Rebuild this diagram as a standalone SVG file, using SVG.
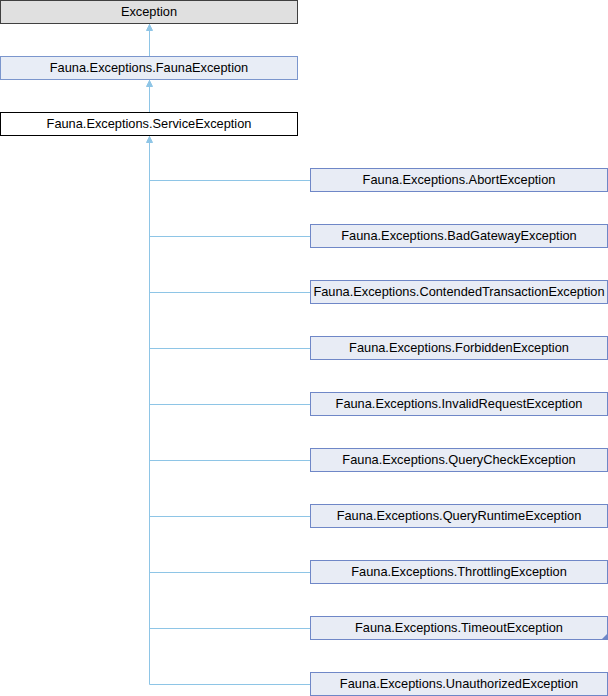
<svg xmlns="http://www.w3.org/2000/svg" width="608" height="696" viewBox="0 0 608 696">
<defs>
<style>
.t{font-family:"Liberation Sans",Arial,sans-serif;font-size:12.8px;fill:#000;text-anchor:middle}
.n{fill:#e8ecf5;stroke:#6f87c7;stroke-width:1}
.e{stroke:#8ec5e6;stroke-width:1;fill:none}
.h{fill:#8ec5e6;stroke:#8ec5e6}
</style>
</defs>
<g id="connectors">
<path class="e" d="M149.5,56 V24"/>
<path class="e" d="M149.5,112 V80"/>
<path class="e" d="M149.5,684.5 V136"/>
<path class="e" d="M149.5,180.5 H310"/>
<path class="e" d="M149.5,236.5 H310"/>
<path class="e" d="M149.5,292.5 H310"/>
<path class="e" d="M149.5,348.5 H310"/>
<path class="e" d="M149.5,404.5 H310"/>
<path class="e" d="M149.5,460.5 H310"/>
<path class="e" d="M149.5,516.5 H310"/>
<path class="e" d="M149.5,572.5 H310"/>
<path class="e" d="M149.5,628.5 H310"/>
<path class="e" d="M149.5,684.5 H310"/>
<path class="h" d="M149.5,24.5 L152.5,30.5 L146.5,30.5 Z"/>
<path class="h" d="M149.5,80.5 L152.5,86.5 L146.5,86.5 Z"/>
<path class="h" d="M149.5,136.5 L152.5,142.5 L146.5,142.5 Z"/>
</g>
<g id="Exception"><rect x="0.5" y="0.5" width="297" height="23" fill="#e0e0e0" stroke="#404040"/><text class="t" x="149" y="16">Exception</text></g>
<g id="FaunaException"><rect x="0.5" y="56.5" width="297" height="23" fill="#e8edf6" stroke="#7b96cd"/><text class="t" x="149" y="72">Fauna.Exceptions.FaunaException</text></g>
<g id="ServiceException"><rect x="0.5" y="112.5" width="297" height="23" fill="#ffffff" stroke="#000000"/><text class="t" x="149" y="128">Fauna.Exceptions.ServiceException</text></g>
<g id="AbortException"><rect class="n" x="310.5" y="168.5" width="297" height="23"/><text class="t" x="459" y="184">Fauna.Exceptions.AbortException</text></g>
<g id="BadGatewayException"><rect class="n" x="310.5" y="224.5" width="297" height="23"/><text class="t" x="459" y="240">Fauna.Exceptions.BadGatewayException</text></g>
<g id="ContendedTransactionException"><rect class="n" x="310.5" y="280.5" width="297" height="23"/><text class="t" x="459" y="296">Fauna.Exceptions.ContendedTransactionException</text></g>
<g id="ForbiddenException"><rect class="n" x="310.5" y="336.5" width="297" height="23"/><text class="t" x="459" y="352">Fauna.Exceptions.ForbiddenException</text></g>
<g id="InvalidRequestException"><rect class="n" x="310.5" y="392.5" width="297" height="23"/><text class="t" x="459" y="408">Fauna.Exceptions.InvalidRequestException</text></g>
<g id="QueryCheckException"><rect class="n" x="310.5" y="448.5" width="297" height="23"/><text class="t" x="459" y="464">Fauna.Exceptions.QueryCheckException</text></g>
<g id="QueryRuntimeException"><rect class="n" x="310.5" y="504.5" width="297" height="23"/><text class="t" x="459" y="520">Fauna.Exceptions.QueryRuntimeException</text></g>
<g id="ThrottlingException"><rect class="n" x="310.5" y="560.5" width="297" height="23"/><text class="t" x="459" y="576">Fauna.Exceptions.ThrottlingException</text></g>
<g id="TimeoutException"><rect class="n" x="310.5" y="616.5" width="297" height="23"/><path d="M607.5,633.5 V639.5 H601.5 Z" fill="#6f87c7"/><text class="t" x="459" y="632">Fauna.Exceptions.TimeoutException</text></g>
<g id="UnauthorizedException"><rect class="n" x="310.5" y="672.5" width="297" height="23"/><text class="t" x="459" y="688">Fauna.Exceptions.UnauthorizedException</text></g>
</svg>
